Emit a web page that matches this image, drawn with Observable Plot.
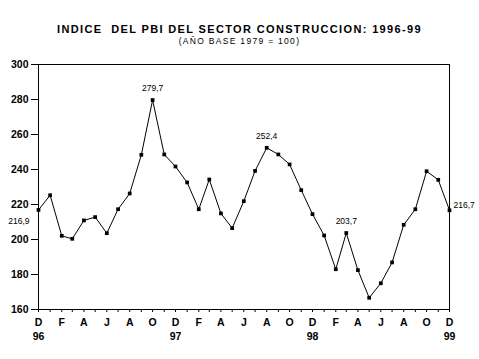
<!DOCTYPE html>
<html>
<head>
<meta charset="utf-8">
<script src="https://cdn.jsdelivr.net/npm/d3@7"></script>
<script src="https://cdn.jsdelivr.net/npm/@observablehq/plot@0.6"></script>
<style>
  html, body { margin: 0; padding: 0; background: #fff; }
  body { width: 479px; height: 359px; position: relative; overflow: hidden; font-family: "Liberation Sans", Arial, sans-serif; }
  #title { position: absolute; left: 0; width: 479px; top: 23px; text-align: center; font-weight: bold; font-size: 11px; line-height: normal; letter-spacing: 1.35px; color: #000; white-space: nowrap; }
  #subtitle { position: absolute; left: 0; width: 479px; top: 35.5px; text-align: center; font-size: 8.5px; line-height: normal; letter-spacing: 1.3px; color: #000; white-space: nowrap; }
  #chart { position: absolute; left: 0; top: 50px; }
</style>
</head>
<body>
<div id="title">INDICE&nbsp; DEL PBI DEL SECTOR CONSTRUCCION: 1996-99</div>
<div id="subtitle">(AÑO BASE 1979 = 100)</div>
<div id="chart"></div>
<script>
const periods = [
  "1996-12",
  "1997-01","1997-02","1997-03","1997-04","1997-05","1997-06","1997-07","1997-08","1997-09","1997-10","1997-11","1997-12",
  "1998-01","1998-02","1998-03","1998-04","1998-05","1998-06","1998-07","1998-08","1998-09","1998-10","1998-11","1998-12",
  "1999-01","1999-02","1999-03","1999-04","1999-05","1999-06","1999-07","1999-08","1999-09","1999-10","1999-11","1999-12"
];
const values = [
  216.9,
  225.3, 202.1, 200.4, 210.9, 212.8, 203.6, 217.3, 226.3, 248.4, 279.7, 248.6, 241.7,
  232.6, 217.3, 234.3, 214.9, 206.5, 221.9, 239.2, 252.4, 248.6, 242.9, 228.2, 214.5,
  202.3, 183.0, 203.7, 182.5, 166.7, 175.0, 186.9, 208.4, 217.3, 239.0, 234.1, 216.7
];
const yTicks = [160, 180, 200, 220, 240, 260, 280, 300];
const tickPeriods = ["1996-12","1997-02","1997-04","1997-06","1997-08","1997-10","1997-12","1998-02","1998-04","1998-06","1998-08","1998-10","1998-12","1999-02","1999-04","1999-06","1999-08","1999-10","1999-12"];
const tickLetters = ["D","F","A","J","A","O","D","F","A","J","A","O","D","F","A","J","A","O","D"];
const yearPeriods = ["1996-12","1997-12","1998-12","1999-12"];
const yearLabels = ["96","97","98","99"];
const labelAbove = ["1997-10","1998-08","1999-03"];
const labelLeft = ["1996-12"];
const labelRight = ["1999-12"];

const parse = d3.utcParse("%Y-%m");
const data = periods.map((p, i) => ({date: parse(p), value: values[i], period: p}));
const fmt = v => d3.format(".1f")(v).replace(".", ",");
const letters = tickPeriods.map((p, i) => ({date: parse(p), text: tickLetters[i]}));
const years = yearPeriods.map((p, i) => ({date: parse(p), text: yearLabels[i]}));
const pick = list => data.filter(d => list.includes(d.period));

const boldTxt = {fontWeight: "bold", fontSize: 10.5, fill: "black"};

const chart = Plot.plot({
  width: 479,
  height: 309,
  marginTop: 14,
  marginLeft: 38,
  marginRight: 30,
  marginBottom: 50,
  style: {fontFamily: "'Liberation Sans', Arial, sans-serif", background: "white", color: "black", overflow: "visible"},
  x: {type: "utc", domain: [parse(periods[0]), parse(periods[periods.length - 1])]},
  y: {domain: [160, 300]},
  marks: [
    Plot.frame({stroke: "black", strokeWidth: 1}),
    Plot.axisY({ticks: yTicks, tickSize: 7, tickPadding: 3, label: null, fontWeight: "bold", fontSize: 10.5}),
    Plot.axisX({ticks: data.map(d => d.date), tickSize: 3, tickFormat: () => "", label: null}),
    Plot.text(letters, {x: "date", text: "text", frameAnchor: "bottom", dy: 16, ...boldTxt}),
    Plot.text(years, {x: "date", text: "text", frameAnchor: "bottom", dy: 30, ...boldTxt}),
    Plot.line(data, {x: "date", y: "value", stroke: "black", strokeWidth: 1}),
    Plot.dot(data, {x: "date", y: "value", symbol: "square", r: 2.1, fill: "black", stroke: "none"}),
    Plot.text(pick(labelAbove), {x: "date", y: "value", text: d => fmt(d.value), dy: -12, fontSize: 8.5, fill: "black"}),
    Plot.text(pick(labelLeft), {x: "date", y: "value", text: d => fmt(d.value), textAnchor: "end", dx: -9, dy: 11, fontSize: 8.5, fill: "black"}),
    Plot.text(pick(labelRight), {x: "date", y: "value", text: d => fmt(d.value), textAnchor: "start", dx: 4, dy: -5, fontSize: 8.5, fill: "black"})
  ]
});
document.getElementById("chart").appendChild(chart);
</script>
</body>
</html>
